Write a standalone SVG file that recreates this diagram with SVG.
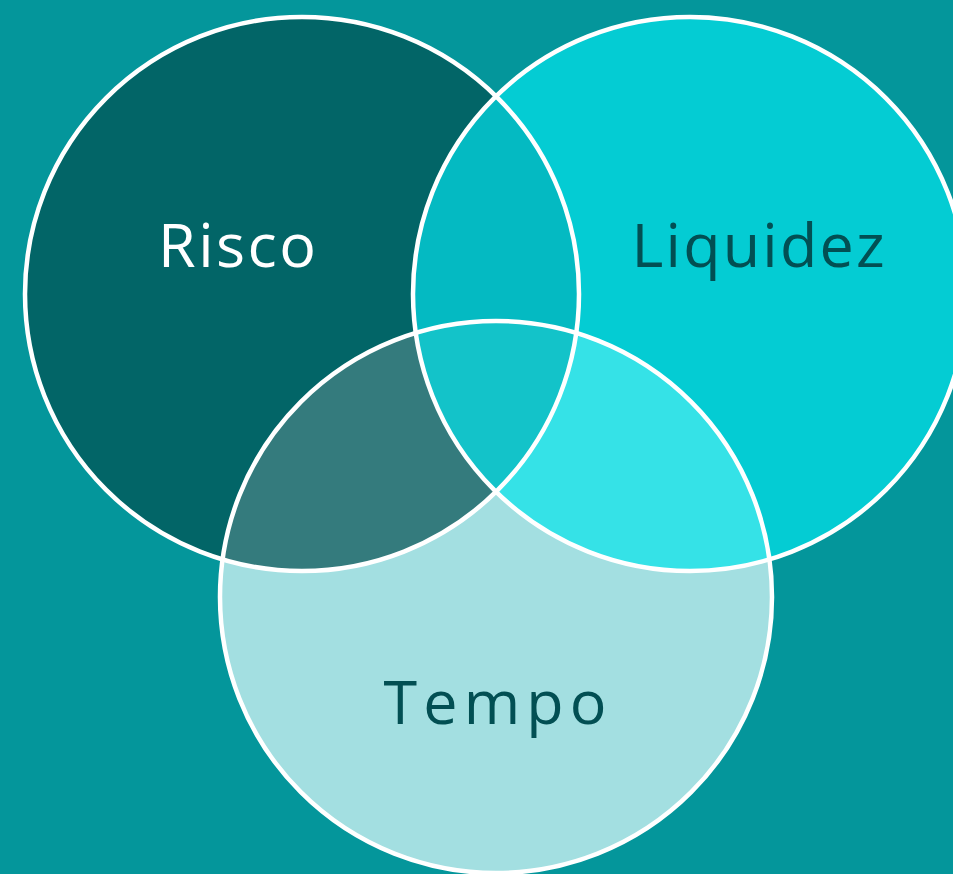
<svg xmlns="http://www.w3.org/2000/svg" width="953" height="874" viewBox="0 0 953 874">
<style>
.ring{fill:none;stroke:#ffffff;stroke-width:4.5}
.lbl{font-family:"Open Sans","Liberation Sans",sans-serif;font-size:61px;font-weight:400;text-anchor:middle}
</style>
<defs>
<clipPath id="cR"><circle cx="302" cy="294" r="277"/></clipPath>
<clipPath id="cL"><circle cx="690" cy="294" r="277"/></clipPath>
<clipPath id="cT"><circle cx="496" cy="597" r="276"/></clipPath>
</defs>
<rect width="953" height="874" fill="#04969B"/>
<g id="fills">
<circle cx="302" cy="294" r="277" fill="#026567"/>
<circle cx="690" cy="294" r="277" fill="#04CCD3"/>
<circle cx="496" cy="597" r="276" fill="#A3DFE1"/>
<g clip-path="url(#cR)"><circle cx="690" cy="294" r="277" fill="#04BAC2"/><circle cx="496" cy="597" r="276" fill="#347B7D"/></g>
<g clip-path="url(#cL)"><circle cx="496" cy="597" r="276" fill="#35E2E7"/></g>
<g clip-path="url(#cR)"><g clip-path="url(#cL)"><circle cx="496" cy="597" r="276" fill="#13C3C9"/></g></g>
</g>
<g id="risco">
<circle class="ring" cx="302" cy="294" r="277"/>
<text class="lbl" x="237" y="267" fill="#ffffff" textLength="158">Risco</text>
</g>
<g id="liquidez">
<circle class="ring" cx="690" cy="294" r="277"/>
<text class="lbl" x="758" y="267" fill="#024F53" textLength="253">Liquidez</text>
</g>
<g id="tempo">
<circle class="ring" cx="496" cy="597" r="276"/>
<text class="lbl" x="495" y="724" fill="#024F53" textLength="223">Tempo</text>
</g>
<g id="connectors"/>
</svg>
